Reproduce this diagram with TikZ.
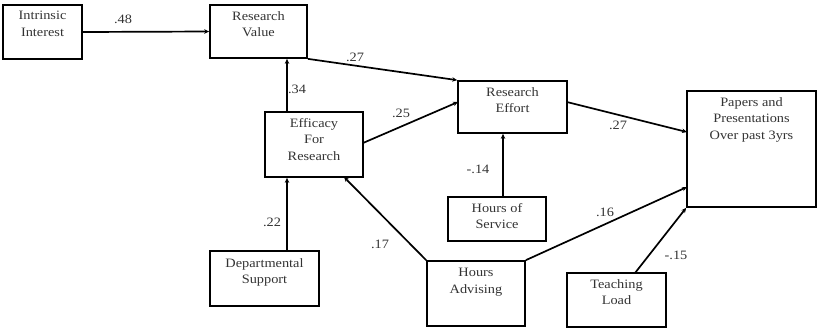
\documentclass[tikz,border=0pt]{standalone}
\usepackage{fontspec}
\setmainfont{Liberation Serif}[FakeStretch=1.12]
\usetikzlibrary{arrows.meta}
\begin{document}
\begin{tikzpicture}[x=1pt,y=-1pt,
  box/.style={draw, line width=1.7pt, inner sep=0pt},
  txt/.style={anchor=north, align=center, inner sep=0pt, font=\fontsize{12.8}{16.5}\selectfont, text=black!80},
  coef/.style={inner sep=0pt, font=\fontsize{12.8}{15}\selectfont, text=black!80},
  arr/.style={line width=1.7pt, -{Stealth[length=5pt,width=4.5pt]}}]
\useasboundingbox (0,0) rectangle (817,330);
% boxes: center, width, height
\node[box, minimum width=79pt, minimum height=54pt] (ii) at (42.5,32) {};
\node[box, minimum width=97pt, minimum height=53pt] (rv) at (258.5,31.5) {};
\node[box, minimum width=98pt, minimum height=65pt] (ef) at (314,144.5) {};
\node[box, minimum width=109pt, minimum height=52pt] (re) at (512.5,107) {};
\node[box, minimum width=98pt, minimum height=44pt] (hs) at (497,219) {};
\node[box, minimum width=129pt, minimum height=116pt] (pp) at (751.5,149) {};
\node[box, minimum width=109pt, minimum height=55pt] (ds) at (264.5,278.5) {};
\node[box, minimum width=98pt, minimum height=65pt] (ha) at (476,293.5) {};
\node[box, minimum width=99pt, minimum height=54pt] (tl) at (616.5,300) {};
% texts
\node[txt] (tii) at ([yshift=-7pt]ii.north) {Intrinsic\\Interest};
\node[txt] (trv) at ([yshift=-7pt]rv.north) {Research\\Value};
\node[txt] (tef) at ([yshift=-7pt]ef.north) {Efficacy\\For\\Research};
\node[txt] (tre) at ([yshift=-7pt]re.north) {Research\\Effort};
\node[txt] (ths) at ([yshift=-7pt]hs.north) {Hours of\\Service};
\node[txt] (tpp) at ([yshift=-7pt]pp.north) {Papers and\\Presentations\\Over past 3yrs};
\node[txt] (tds) at ([yshift=-8pt]ds.north) {Departmental\\Support};
\node[txt] (tha) at ([yshift=-8pt]ha.north) {Hours\\Advising};
\node[txt] (ttl) at ([yshift=-7pt]tl.north) {Teaching\\Load};
% helper coordinates
\coordinate (efE) at (363,143);
\coordinate (reW) at (458,102);
\coordinate (reE) at (567,102);
\coordinate (ppA) at (687,132);
\coordinate (ppB) at (687,187);
\coordinate (tlN) at (635,273);
\coordinate (efS) at (344,177);
% connectors
\draw[arr] (ii.east) -- (rv.west);
\draw[arr] (ef.north -| 287,0) -- (rv.south -| 287,0);
\draw[arr] (rv.south east) -- (re.north west);
\draw[arr] (efE) -- (reW);
\draw[arr] (hs.north -| 503,0) -- (re.south -| 503,0);
\draw[arr] (reE) -- (ppA);
\draw[arr] (ha.north east) -- (ppB);
\draw[arr] (tlN) -- (pp.south west);
\draw[arr] (ha.north west) -- (efS);
\draw[arr] (ds.north -| 287,0) -- (ef.south -| 287,0);
% coefficients
\node[coef] (c48) at (123,19) {.48};
\node[coef] (c34) at (297,89) {.34};
\node[coef] (c27a) at (355,57) {.27};
\node[coef] (c25) at (401,113) {.25};
\node[coef] (c14) at (478,169) {-.14};
\node[coef] (c27b) at (618,125) {.27};
\node[coef] (c16) at (605,212) {.16};
\node[coef] (c17) at (380,244) {.17};
\node[coef] (c22) at (272,222) {.22};
\node[coef] (c15) at (676,255) {-.15};
\end{tikzpicture}
\end{document}
